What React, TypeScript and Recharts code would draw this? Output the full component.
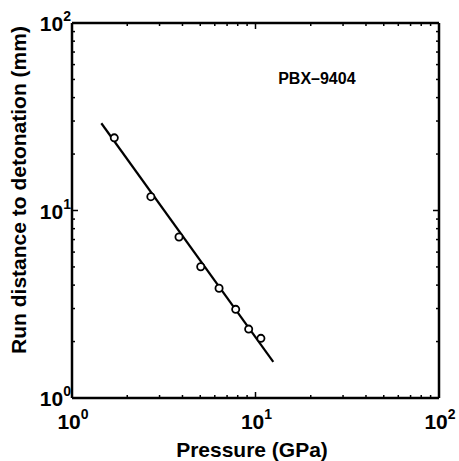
import { ComposedChart, Scatter, Line, XAxis, YAxis, ReferenceDot, Label } from 'recharts';

const pressure = [1.7, 2.69, 3.83, 5.03, 6.33, 7.8, 9.18, 10.7];
const runDistance = [24.4, 11.85, 7.22, 5.01, 3.85, 2.97, 2.33, 2.08];
const fitPressure = [1.445, 12.5];
const fitDistance = [29.2, 1.56];
const logTicks = [1, 2, 3, 4, 5, 6, 7, 8, 9, 10, 20, 30, 40, 50, 60, 70, 80, 90, 100];
const majorTicks = [1, 10, 100];

const points = pressure.map((x, i) => ({ x, y: runDistance[i] }));
const fitLine = fitPressure.map((x, i) => ({ x, y: fitDistance[i] }));

const FONT = '"Liberation Sans", Arial, Helvetica, sans-serif';

const exponentOf = (v: number) => Math.round(Math.log10(v));

// inward ticks, labels only on decades
const makeTick = (side: 'bottom' | 'top' | 'left' | 'right', showLabel: boolean) => (props: any) => {
  const { x, y, payload } = props;
  const v = payload.value;
  const major = majorTicks.includes(v);
  const len = major ? 6 : 3;
  let line;
  if (side === 'bottom') line = <line x1={x} y1={y} x2={x} y2={y - len} stroke="#000" strokeWidth={1.5} />;
  else if (side === 'top') line = <line x1={x} y1={y} x2={x} y2={y + len} stroke="#000" strokeWidth={1.5} />;
  else if (side === 'left') line = <line x1={x} y1={y} x2={x + len} y2={y} stroke="#000" strokeWidth={1.5} />;
  else line = <line x1={x} y1={y} x2={x - len} y2={y} stroke="#000" strokeWidth={1.5} />;
  let label = null;
  if (showLabel && major) {
    const exp = exponentOf(v);
    if (side === 'bottom') {
      label = (
        <text x={x + 1} y={y + 31} textAnchor="middle" fontSize={21} fontWeight="bold" fontFamily={FONT} fill="#000">
          10<tspan dy={-10} fontSize={14}>{exp}</tspan>
        </text>
      );
    } else {
      label = (
        <text x={x - 1} y={y + 8} textAnchor="end" fontSize={21} fontWeight="bold" fontFamily={FONT} fill="#000">
          10<tspan dy={-10} fontSize={14}>{exp}</tspan>
        </text>
      );
    }
  }
  return (
    <g>
      {line}
      {label}
    </g>
  );
};

const Ring = (props: any) => {
  const { cx, cy } = props;
  return <circle cx={cx} cy={cy} r={3.6} fill="#fff" stroke="#000" strokeWidth={1.8} />;
};

const axisLine = { stroke: '#000', strokeWidth: 2.5 };

export default function App() {
  return (
    <div style={{ position: 'absolute', left: 0, top: 0, width: 459, height: 461, background: '#fff' }}>
      <ComposedChart width={459} height={461} margin={{ top: 22, right: 19, bottom: 0, left: 0 }}>
        <XAxis
          xAxisId="b" dataKey="x" type="number" scale="log" domain={[1, 100]} ticks={logTicks}
          allowDataOverflow interval={0} height={63} tickSize={0} tickMargin={0} tickLine={false}
          axisLine={axisLine} tick={makeTick('bottom', true)}
        >
          <Label
            content={() => (
              <text x={252} y={457} textAnchor="middle" fontSize={21} fontWeight="bold" fontFamily={FONT} fill="#000">
                Pressure (GPa)
              </text>
            )}
          />
        </XAxis>
        <XAxis
          xAxisId="t" orientation="top" dataKey="x" type="number" scale="log" domain={[1, 100]} ticks={logTicks}
          allowDataOverflow interval={0} height={1} tickSize={0} tickMargin={0} tickLine={false}
          axisLine={axisLine} tick={makeTick('top', false)}
        />
        <YAxis
          yAxisId="l" dataKey="y" type="number" scale="log" domain={[1, 100]} ticks={logTicks}
          allowDataOverflow interval={0} width={72} tickSize={0} tickMargin={0} tickLine={false}
          axisLine={axisLine} tick={makeTick('left', true)}
        >
          <Label
            content={() => (
              <text
                x={0} y={0} transform="translate(26, 190) rotate(-90)" textAnchor="middle"
                fontSize={21} fontWeight="bold" fontFamily={FONT} fill="#000"
              >
                Run distance to detonation (mm)
              </text>
            )}
          />
        </YAxis>
        <YAxis
          yAxisId="r" orientation="right" dataKey="y" type="number" scale="log" domain={[1, 100]} ticks={logTicks}
          allowDataOverflow interval={0} width={1} tickSize={0} tickMargin={0} tickLine={false}
          axisLine={axisLine} tick={makeTick('right', false)}
        />
        <Line
          xAxisId="b" yAxisId="l" data={fitLine} dataKey="y" stroke="#000" strokeWidth={2.2}
          dot={false} activeDot={false} isAnimationActive={false} type="linear"
        />
        <Scatter xAxisId="b" yAxisId="l" data={points} dataKey="y" shape={<Ring />} isAnimationActive={false} />
        <ReferenceDot
          xAxisId="b" yAxisId="l" x={21.6} y={50.9} r={0} stroke="none" fill="none"
          label={{ value: 'PBX–9404', position: 'center', fill: '#000', fontSize: 16, fontWeight: 'bold', fontFamily: FONT }}
        />
      </ComposedChart>
    </div>
  );
}
